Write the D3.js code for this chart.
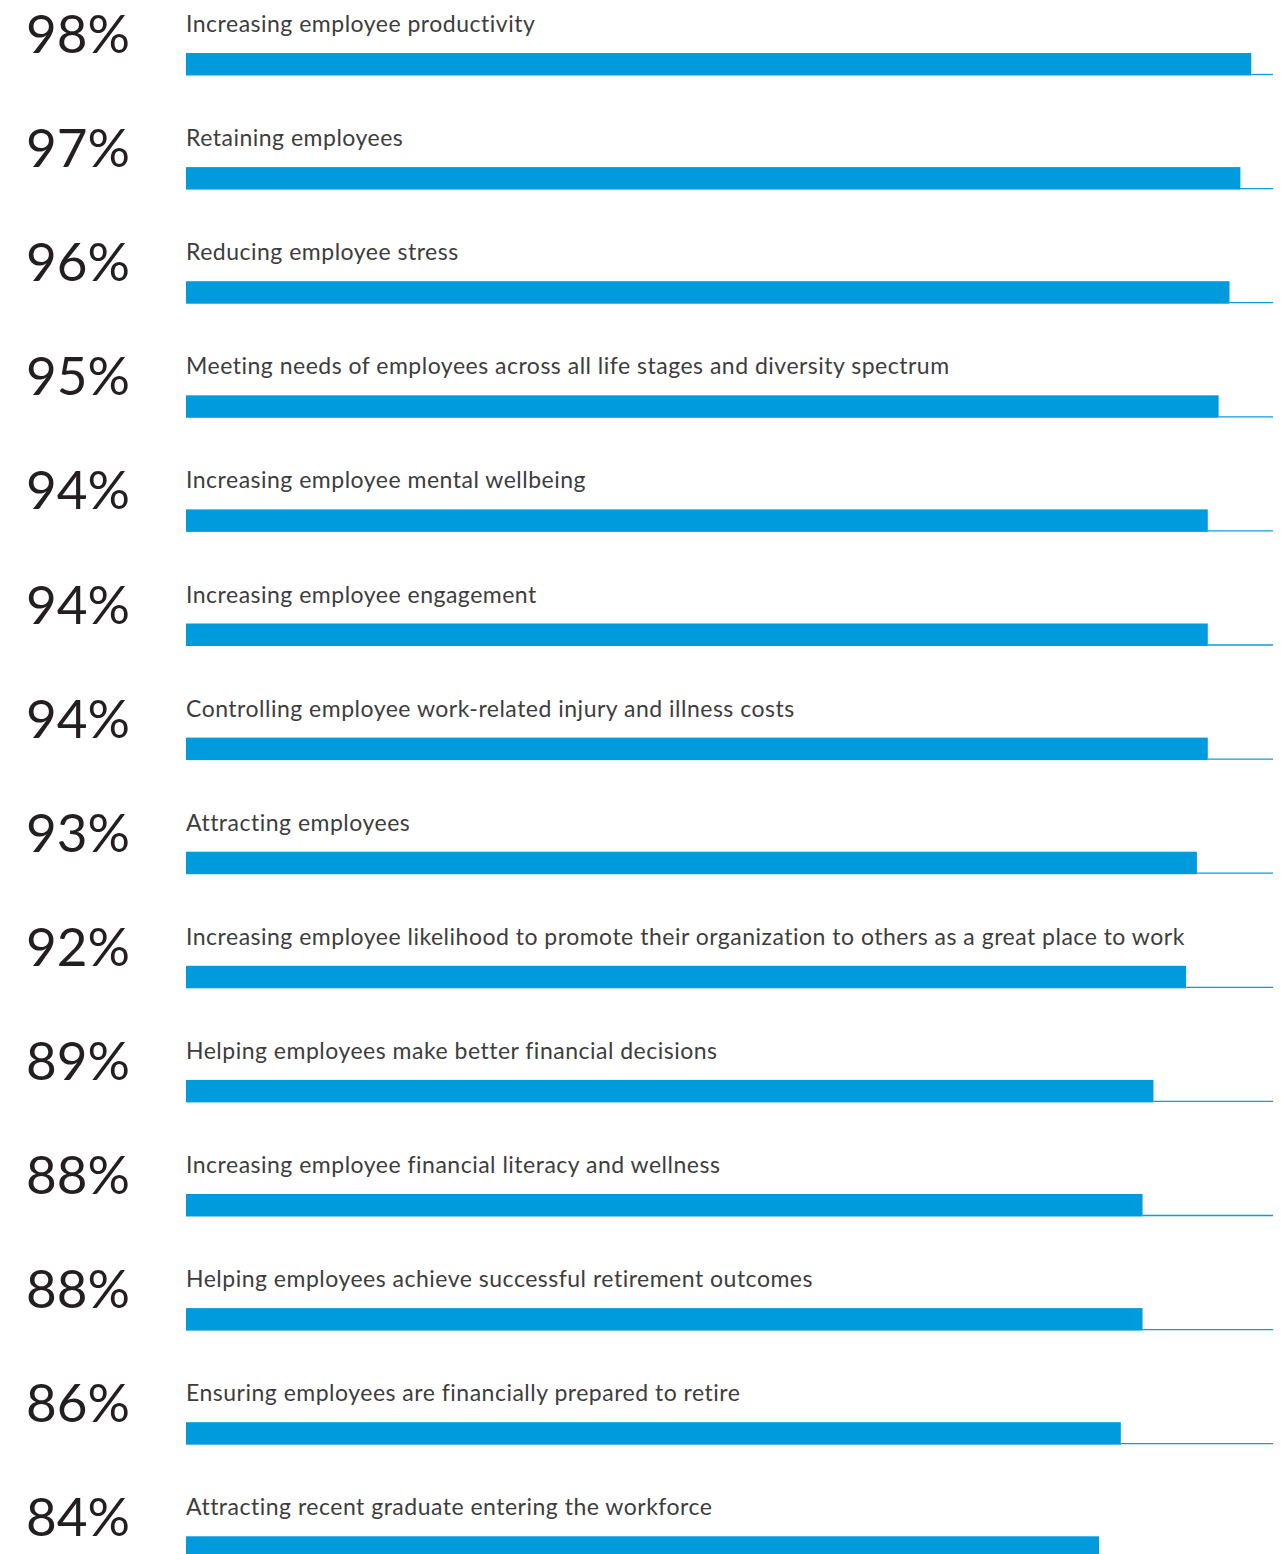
<!DOCTYPE html>
<html>
<head>
<meta charset="utf-8">
<script src="https://cdn.jsdelivr.net/npm/d3@7"></script>
<style>
  html, body { margin: 0; padding: 0; background: #fff; overflow: hidden; }
</style>
</head>
<body>
<div id="chart"></div>
<script>
// data
const labels = [
  "Increasing employee productivity",
  "Retaining employees",
  "Reducing employee stress",
  "Meeting needs of employees across all life stages and diversity spectrum",
  "Increasing employee mental wellbeing",
  "Increasing employee engagement",
  "Controlling employee work-related injury and illness costs",
  "Attracting employees",
  "Increasing employee likelihood to promote their organization to others as a great place to work",
  "Helping employees make better financial decisions",
  "Increasing employee financial literacy and wellness",
  "Helping employees achieve successful retirement outcomes",
  "Ensuring employees are financially prepared to retire",
  "Attracting recent graduate entering the workforce"
];
const values = [98, 97, 96, 95, 94, 94, 94, 93, 92, 89, 88, 88, 86, 84];

const width = 1281, height = 1554;
const rowH = 114.1;

const svg = d3.select("#chart")
  .append("svg")
    .attr("width", width)
    .attr("height", height);

const x = d3.scaleLinear()
  .domain([0, 100])
  .range([186, 1273]);

const y = d3.scaleBand()
  .domain(d3.range(values.length))
  .range([0, rowH * values.length]);

const rows = svg.selectAll("g.row")
  .data(values)
  .enter()
  .append("g")
    .attr("class", "row")
    .attr("transform", (d, i) => `translate(0,${y(i)})`);

// big percentage
rows.append("text")
  .attr("x", 26)
  .attr("y", 53)
  .style("font-family", "Lato, sans-serif")
  .style("font-size", "53px")
  .style("fill", "#231f20")
  .text(d => d + "%");

// category label
rows.append("text")
  .attr("x", 186)
  .attr("y", 32)
  .style("font-family", "Lato, sans-serif")
  .style("font-size", "23px")
  .style("letter-spacing", "0.5px")
  .style("fill", "#3d3d3d")
  .text((d, i) => labels[i]);

// thin track line to 100%
rows.append("line")
  .attr("x1", d => x(d))
  .attr("x2", x(100))
  .attr("y1", 74.5)
  .attr("y2", 74.5)
  .style("stroke", "#0a9ddc")
  .style("stroke-width", 1.3);

// bar
rows.append("rect")
  .attr("x", x(0))
  .attr("y", 53)
  .attr("width", d => x(d) - x(0))
  .attr("height", 22.5)
  .style("fill", "#009bdc");
</script>
</body>
</html>
